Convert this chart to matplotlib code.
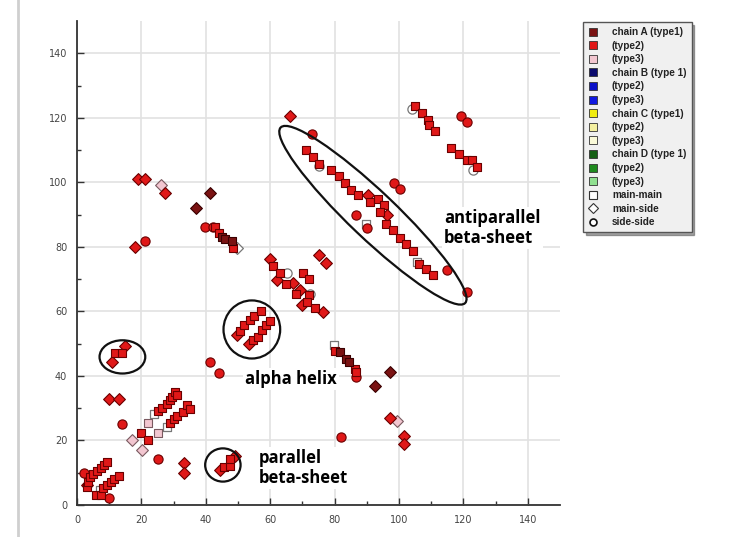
import matplotlib
matplotlib.use('Agg')
import matplotlib.pyplot as plt
from matplotlib.patches import Ellipse
from matplotlib.lines import Line2D

# ---------------- data ----------------
# chain A type2 (red) -- main-main squares
red_sq_x = [3.2, 3.3, 4.0, 5.1, 6.1, 7.4, 8.4, 9.2,
            5.9, 7.6, 8.2, 9.2, 10.5, 11.6, 13.1,
            11.8, 13.9, 20.0, 22.0,
            25.3, 26.3, 27.9, 28.9, 29.6, 30.3, 31.0,
            28.9, 30.1, 31.2, 32.8, 34.1, 35.1,
            45.7, 47.4, 47.4,
            50.7, 52.0, 53.8, 55.1, 57.1,
            54.6, 56.1, 57.4, 58.8, 60.0,
            42.8, 44.0, 48.4,
            61.0, 63.1, 65.0, 70.1, 72.2, 68.1, 71.9, 71.4, 74.0,
            80.0, 86.2, 86.5,
            71.2, 73.2, 75.3, 79.0, 81.3, 83.1, 85.1, 87.2, 91.1, 93.4, 95.3, 94.0,
            96.1, 98.2, 100.2, 102.3, 104.4, 106.2, 108.3, 110.5,
            105.1, 107.2, 109.1, 109.3, 111.1,
            116.2, 118.6, 121.0, 122.8, 124.3]
red_sq_y = [5.7, 7.2, 8.6, 9.6, 10.6, 11.6, 12.4, 13.4,
            3.1, 3.1, 5.2, 6.2, 7.2, 8.2, 9.1,
            47.2, 47.2, 22.2, 20.1,
            29.1, 30.0, 31.3, 32.5, 33.5, 35.1, 34.1,
            25.3, 26.5, 27.5, 28.9, 31.0, 29.9,
            11.9, 12.1, 14.4,
            54.0, 55.9, 57.3, 58.5, 60.2,
            51.1, 52.1, 54.2, 55.7, 57.1,
            86.2, 84.3, 79.8,
            74.0, 71.9, 68.4, 71.9, 69.9, 65.5, 65.0, 62.9, 60.9,
            47.8, 42.3, 41.3,
            110.1, 107.8, 105.8, 103.9, 101.9, 99.8, 97.7, 96.0, 93.9, 94.9, 92.9, 90.8,
            87.2, 85.1, 82.9, 80.8, 78.7, 74.8, 73.0, 71.2,
            123.8, 121.5, 119.4, 117.9, 115.9,
            110.7, 108.9, 107.0, 106.8, 104.7]

# chain A type2 -- main-side diamonds
red_di_x = [3.0, 10.8, 14.9, 10.0, 13.1, 33.1, 33.1, 44.3, 49.1, 49.7, 53.3,
            18.9, 21.2, 27.2, 18.0, 66.3, 60.0, 62.1, 67.1, 69.9, 76.3, 75.0, 77.3,
            69.2, 90.4, 96.3, 97.2, 101.5, 101.5]
red_di_y = [6.2, 44.2, 49.2, 33.0, 33.0, 13.1, 10.0, 11.0, 15.2, 52.6, 49.8,
            100.9, 100.9, 96.7, 80.0, 120.7, 76.1, 69.7, 68.9, 61.9, 59.8, 77.4, 75.0,
            66.7, 96.2, 89.8, 27.1, 21.4, 18.9]

# chain A type2 -- side-side circles
red_ci_x = [2.2, 10.0, 13.9, 25.0, 41.2, 44.0, 39.8, 42.2, 21.2, 73.0, 86.5, 90.1,
            98.4, 100.2, 115.0, 121.0, 119.1, 121.2, 86.5, 82.0]
red_ci_y = [10.0, 2.1, 25.1, 14.2, 44.2, 41.0, 86.2, 86.2, 81.8, 114.9, 89.8, 86.0,
            99.9, 97.8, 72.8, 66.0, 120.7, 118.7, 39.7, 21.0]

# chain A type1 (dark red)
dark_sq_x = [45.0, 46.0, 48.1, 81.8, 83.4, 84.4]
dark_sq_y = [83.1, 82.3, 81.8, 47.5, 45.4, 44.2]
dark_di_x = [37.0, 41.2, 97.2, 92.4]
dark_di_y = [92.0, 96.8, 41.3, 36.8]

# chain A type3 (pink)
pink_sq_x = [22.0, 25.0]
pink_sq_y = [25.3, 22.2]
pink_di_x = [17.0, 20.1, 26.0, 99.4]
pink_di_y = [20.1, 17.0, 99.1, 26.1]

# open (interaction-type only) markers
open_sq_x = [24.0, 27.9, 79.7, 105.5, 89.6, 7.0]
open_sq_y = [28.1, 24.1, 49.5, 75.4, 87.2, 4.6]
open_ci_x = [65.2, 72.3, 123.0, 104.1, 75.0]
open_ci_y = [71.9, 65.5, 103.7, 122.8, 105.0]
open_di_x = [49.7]
open_di_y = [79.8]

legend_labels = ['chain A (type1)', '(type2)', '(type3)',
                 'chain B (type 1)', '(type2)', '(type3)',
                 'chain C (type1)', '(type2)', '(type3)',
                 'chain D (type 1)', '(type2)', '(type3)',
                 'main-main', 'main-side', 'side-side']
legend_colors = ['#7a1212', '#e01818', '#f2c6d0',
                 '#0a0a6e', '#0a10c8', '#1018e0',
                 '#f0ec10', '#f4f0a0', '#fafad8',
                 '#146014', '#1e8a1e', '#90e090']

x_ticks = [0, 20, 40, 60, 80, 100, 120, 140]
y_ticks = [0, 20, 40, 60, 80, 100, 120, 140]

# ---------------- figure ----------------
fig = plt.figure(figsize=(7.34, 5.37), dpi=100)
ax = fig.add_axes([77/734, 1 - 505/537, (560-77)/734, (505-21)/537])
ax.set_xlim(0, 150)
ax.set_ylim(0, 150)

for s in ['top', 'right']:
    ax.spines[s].set_visible(False)
for s in ['left', 'bottom']:
    ax.spines[s].set_color('#333333')
    ax.spines[s].set_linewidth(1.3)

ax.set_xticks(x_ticks)
ax.set_yticks(y_ticks)
ax.set_xticks(range(10, 150, 20), minor=True)
ax.set_yticks(range(10, 150, 20), minor=True)
ax.tick_params(which='major', direction='in', length=5, width=1, color='#333333',
               labelsize=7, labelcolor='#444444', pad=7)
ax.tick_params(which='minor', direction='in', length=3, width=1, color='#333333')
ax.grid(True, which='major', color='#e2e2e2', linewidth=1.2)
ax.set_axisbelow(True)

edge_red = '#6a0000'
ms_sq, ms_di, ms_ci = 40, 36, 44

ax.scatter(open_sq_x, open_sq_y, s=ms_sq, marker='s', facecolor='white', edgecolor='#777777', linewidth=0.9, zorder=2)
ax.scatter(open_ci_x, open_ci_y, s=ms_ci, marker='o', facecolor='white', edgecolor='#777777', linewidth=0.9, zorder=2)
ax.scatter(open_di_x, open_di_y, s=ms_di, marker='D', facecolor='white', edgecolor='#777777', linewidth=0.9, zorder=2)

ax.scatter(pink_sq_x, pink_sq_y, s=ms_sq, marker='s', facecolor='#f2c6d0', edgecolor='#7a5a60', linewidth=0.8, zorder=3)
ax.scatter(pink_di_x, pink_di_y, s=ms_di, marker='D', facecolor='#f2c6d0', edgecolor='#7a5a60', linewidth=0.8, zorder=3)

ax.scatter(red_ci_x, red_ci_y, s=ms_ci, marker='o', facecolor='#e01818', edgecolor=edge_red, linewidth=0.8, zorder=3)
ax.scatter(red_di_x, red_di_y, s=ms_di, marker='D', facecolor='#e01818', edgecolor=edge_red, linewidth=0.8, zorder=3)
ax.scatter(red_sq_x, red_sq_y, s=ms_sq, marker='s', facecolor='#e01818', edgecolor=edge_red, linewidth=0.8, zorder=4)

ax.scatter(dark_sq_x, dark_sq_y, s=ms_sq, marker='s', facecolor='#7a1212', edgecolor='#3a0000', linewidth=0.8, zorder=5)
ax.scatter(dark_di_x, dark_di_y, s=ms_di, marker='D', facecolor='#7a1212', edgecolor='#3a0000', linewidth=0.8, zorder=5)

# annotation ellipses
ell_kw = dict(fill=False, edgecolor='#111111', linewidth=1.6, zorder=6)
ax.add_patch(Ellipse((14.1, 45.9), 14.2, 10.3, **ell_kw))
ax.add_patch(Ellipse((54.3, 54.4), 17.6, 18.0, **ell_kw))
ax.add_patch(Ellipse((45.3, 12.4), 11.0, 10.3, **ell_kw))
ax.add_patch(Ellipse((91.9, 89.8), 79.0, 14.5, angle=-43.5, **ell_kw))

txt_kw = dict(fontsize=12, fontweight='bold', family=['Open Sans', 'DejaVu Sans'], color='black',
              zorder=7, bbox=dict(facecolor='white', edgecolor='none', pad=1.5))
ax.text(114, 85.8, 'antiparallel\nbeta-sheet', ha='left', va='center', linespacing=1.15, **txt_kw)
ax.text(52.3, 39.0, 'alpha helix', ha='left', va='center', **txt_kw)
ax.text(56.3, 11.5, 'parallel\nbeta-sheet', ha='left', va='center', linespacing=1.15, **txt_kw)

# legend
handles = []
for c in legend_colors:
    handles.append(Line2D([], [], linestyle='none', marker='s', markersize=6,
                          markerfacecolor=c, markeredgecolor='#333333', markeredgewidth=0.6))
handles.append(Line2D([], [], linestyle='none', marker='s', markersize=6,
                      markerfacecolor='white', markeredgecolor='#333333', markeredgewidth=0.8))
handles.append(Line2D([], [], linestyle='none', marker='D', markersize=5,
                      markerfacecolor='white', markeredgecolor='#333333', markeredgewidth=0.8))
handles.append(Line2D([], [], linestyle='none', marker='o', markersize=5,
                      markerfacecolor='white', markeredgecolor='#111111', markeredgewidth=1.2))
leg = fig.legend(handles, legend_labels, loc='upper left', bbox_to_anchor=(583/734, 1 - 22/537),
                 borderaxespad=0, frameon=True, fancybox=False, shadow=True,
                 handlelength=1.0, handletextpad=1.4,
                 labelspacing=0.36, borderpad=0.5,
                 prop={'family': 'Liberation Sans', 'weight': 'bold', 'size': 7.2})
leg.get_frame().set_facecolor('#f0f0f0')
leg.get_frame().set_edgecolor('#555555')
leg.get_frame().set_linewidth(1.0)
for t in leg.get_texts():
    t.set_color('#222222')

# left frame line of the screenshot
fig.add_artist(Line2D([18/734, 18/734], [0, 1], color='#cfcfcf', linewidth=2, transform=fig.transFigure))

fig.savefig('out.png', dpi=100)
